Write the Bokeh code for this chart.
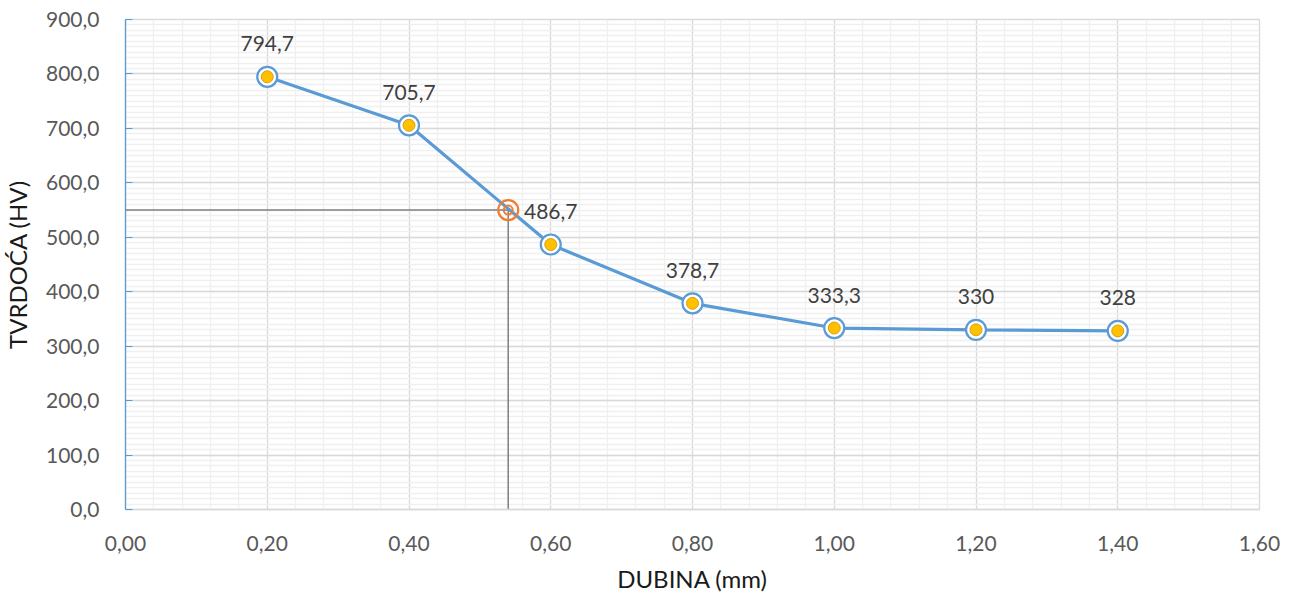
from bokeh.plotting import figure
from bokeh.models import ColumnDataSource, FixedTicker, CustomJSTickFormatter, Range1d
from bokeh.core.properties import value
from bokeh.embed import file_html
from bokeh.resources import INLINE

# data
depth = [0.2, 0.4, 0.6, 0.8, 1.0, 1.2, 1.4]
hardness = [794.7, 705.7, 486.7, 378.7, 333.3, 330, 328]
labels = ["794,7", "705,7", "486,7", "378,7", "333,3", "330", "328"]
limit_depth = [0.54]
limit_hardness = [550]
x_ticks = [0.0, 0.2, 0.4, 0.6, 0.8, 1.0, 1.2, 1.4, 1.6]
y_ticks = [0, 100, 200, 300, 400, 500, 600, 700, 800, 900]

FONT = "Lato"
BLUE = "#5B9BD5"
ORANGE = "#ED7D31"
GOLD = "#FFC000"

p = figure(width=1290, height=595, output_backend="svg", toolbar_location=None,
           x_range=Range1d(0, 1.6), y_range=Range1d(0, 900),
           min_border_left=122, min_border_right=31, min_border_top=19, min_border_bottom=83)
p.outline_line_color = "#D9D9D9"
p.outline_line_width = 1.3
p.background_fill_color = "white"
p.border_fill_color = "white"

p.xaxis.ticker = FixedTicker(ticks=x_ticks, minor_ticks=[i * 0.04 for i in range(41)])
p.yaxis.ticker = FixedTicker(ticks=y_ticks, minor_ticks=list(range(0, 901, 10)))
p.xaxis.formatter = CustomJSTickFormatter(code="return tick.toFixed(2).replace('.', ',');")
p.yaxis.formatter = CustomJSTickFormatter(code="return tick.toFixed(1).replace('.', ',');")

p.xgrid.grid_line_color = "#D9D9D9"
p.ygrid.grid_line_color = "#D9D9D9"
p.xgrid.grid_line_width = 1.3
p.ygrid.grid_line_width = 1.3
p.xgrid.minor_grid_line_color = "#F0F0F0"
p.ygrid.minor_grid_line_color = "#F0F0F0"
p.xgrid.minor_grid_line_width = 1.3
p.ygrid.minor_grid_line_width = 1.3

for ax in (p.xaxis, p.yaxis):
    ax.major_label_text_font = FONT
    ax.major_label_text_font_size = "21px"
    ax.major_label_text_color = "#595959"
    ax.axis_label_text_font = FONT
    ax.axis_label_text_font_size = "24px"
    ax.axis_label_text_font_style = "normal"
    ax.axis_label_text_color = "#1A1A1A"
    ax.minor_tick_line_color = None

p.xaxis.axis_label = "DUBINA (mm)"
p.yaxis.axis_label = "TVRDOĆA (HV)"
p.xaxis.axis_line_color = "#D9D9D9"
p.xaxis.axis_line_width = 1.3
p.xaxis.major_tick_line_color = None
p.xaxis.major_label_standoff = 20
p.xaxis.axis_label_standoff = 10
p.yaxis.axis_line_color = BLUE
p.yaxis.axis_line_width = 1.3
p.yaxis.major_tick_line_color = BLUE
p.yaxis.major_tick_in = 7
p.yaxis.major_tick_out = 0
p.yaxis.major_label_standoff = 22
p.yaxis.axis_label_standoff = 11

# guide lines to the limit point
p.line([0, limit_depth[0]], [limit_hardness[0], limit_hardness[0]], line_color="#7F7F7F", line_width=1.5)
p.line([limit_depth[0], limit_depth[0]], [limit_hardness[0], 0], line_color="#7F7F7F", line_width=1.5)

src = ColumnDataSource(dict(x=depth, y=hardness, lab=labels))
p.line("x", "y", source=src, line_color=BLUE, line_width=3.2)
p.scatter("x", "y", source=src, size=20, fill_color="white", line_color=BLUE, line_width=2.2)
p.scatter("x", "y", source=src, size=12, fill_color=GOLD, line_color="#D4A017", line_width=1)

p.scatter(limit_depth, limit_hardness, size=20, fill_color="white", fill_alpha=0.0,
          line_color=ORANGE, line_width=2.2)
p.scatter(limit_depth, limit_hardness, size=9, fill_color=None,
          line_color=ORANGE, line_width=2)

p.text("x", "y", text="lab", source=src, text_font=value(FONT), text_font_size="21px",
       text_color="#404040", text_align="center", text_baseline="middle", y_offset=-33)

open("out.html", "w").write(file_html(p, INLINE))
